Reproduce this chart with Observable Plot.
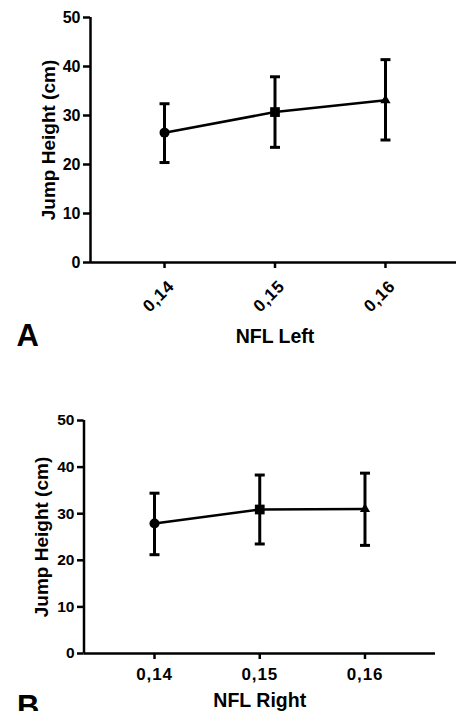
<!DOCTYPE html>
<html><head><meta charset="utf-8">
<script src="https://cdn.jsdelivr.net/npm/d3@7"></script>
<script src="https://cdn.jsdelivr.net/npm/@observablehq/plot@0.6"></script>
<style>
html,body{margin:0;padding:0;background:#fff;overflow:hidden;width:456px;height:711px}
svg{display:block}
</style></head><body><div id="a"></div><div id="b"></div>
<script>
// ---- data ----
const nfl = [0.14, 0.15, 0.16];
const xTickLabels = ["0,14", "0,15", "0,16"];
const markers = ["circle", "square", "triangle"];
const yTicks = [0, 10, 20, 30, 40, 50];
const leftMean = [26.5, 30.7, 33.1];
const leftLow = [20.4, 23.5, 25.0];
const leftHigh = [32.4, 37.9, 41.4];
const rightMean = [27.9, 30.9, 31.0];
const rightLow = [21.2, 23.5, 23.2];
const rightHigh = [34.4, 38.3, 38.7];
const panelLetters = ["A", "B"];
const xTitles = ["NFL Left", "NFL Right"];
const yTitle = "Jump Height (cm)";
const xDomain = [0.1333, 0.1667];
const yDomain = [0, 50];

const FONT = "'Liberation Sans', Arial, Helvetica, sans-serif";
const capSymbol = {
  draw(context, size) {
    const w = Math.sqrt(size / Math.PI);
    context.moveTo(-w, 0);
    context.lineTo(w, 0);
  }
};

function panel(o) {
  const rows = nfl.map((x, i) => ({x, mean: o.mean[i], low: o.low[i], high: o.high[i], symbol: markers[i]}));
  const svg = Plot.plot({
    width: 456,
    height: o.height,
    marginTop: o.mt, marginRight: o.mr, marginBottom: o.mb, marginLeft: o.ml,
    style: {fontFamily: FONT, fontWeight: "bold", color: "black", background: "white", overflow: "hidden"},
    x: {domain: xDomain, axis: null},
    y: {domain: yDomain, axis: null},
    marks: [
      Plot.axisY({ticks: yTicks, tickSize: o.yTickSize, tickPadding: 3, strokeWidth: 2.5, fontSize: o.yFont, label: null}),
      // tick marks
      Plot.axisX({ticks: nfl, tickFormat: () => "", tickSize: 6, strokeWidth: 2.5, label: null}),
      // tick labels
      Plot.axisX({ticks: nfl, tickFormat: d => xTickLabels[nfl.indexOf(d)], tickSize: 0, tickRotate: o.rotate,
        tickPadding: o.xPad, dx: o.xdx, dy: o.xdy, fontSize: 17, label: null}),
      Plot.ruleY([0], {stroke: "black", strokeWidth: 2.5}),
      Plot.ruleX([xDomain[0]], {stroke: "black", strokeWidth: 2.5}),
      Plot.ruleX(rows, {x: "x", y1: "low", y2: "high", stroke: "black", strokeWidth: 3}),
      Plot.dot(rows, {x: "x", y: "low", symbol: capSymbol, r: 5, stroke: "black", strokeWidth: 3, fill: "none"}),
      Plot.dot(rows, {x: "x", y: "high", symbol: capSymbol, r: 5, stroke: "black", strokeWidth: 3, fill: "none"}),
      Plot.line(rows, {x: "x", y: "mean", stroke: "black", strokeWidth: 2.5}),
      Plot.dot(rows, {filter: d => d.symbol === "circle", x: "x", y: "mean", symbol: "circle", r: 5, fill: "black", stroke: "none"}),
      Plot.dot(rows, {filter: d => d.symbol === "square", x: "x", y: "mean", symbol: "square", r: 5.5, fill: "black", stroke: "none"}),
      Plot.dot(rows, {filter: d => d.symbol === "triangle", x: "x", y: "mean", symbol: "triangle", r: 3.8, fill: "black", stroke: "none"}),
      Plot.text([yTitle], {text: d => d, frameAnchor: "left", rotate: -90, dx: o.ytdx, fontSize: 19,
        textAnchor: "middle", lineAnchor: "middle", fill: "black", ariaLabel: "ytitle"}),
      Plot.text([o.xTitle], {text: d => d, frameAnchor: "bottom", dy: o.xtdy, fontSize: 19.5,
        textAnchor: "middle", lineAnchor: "bottom", fill: "black"}),
      Plot.text([o.letter], {text: d => d, frameAnchor: "bottom-left", dx: o.ldx, dy: o.ldy, fontSize: 31,
        textAnchor: "start", lineAnchor: "bottom", fill: "black"})
    ]
  });
  const yt = svg.querySelector('g[aria-label="ytitle"]');
  if (yt) yt.style.letterSpacing = "0.5px";
  svg.querySelectorAll('g[aria-label="x-axis tick label"]').forEach(g => g.style.letterSpacing = "0.8px");
  return svg;
}

document.getElementById("a").append(panel({
  mean: leftMean, low: leftLow, high: leftHigh, letter: panelLetters[0], xTitle: xTitles[0],
  height: 355, mt: 17, mr: -3, mb: 93, ml: 90, yTickSize: 7, yFont: 16,
  rotate: -45, xPad: 9, xdx: 7, xdy: 12, ytdx: -42, xtdy: 80, ldx: -74, ldy: 83
}));
document.getElementById("b").append(panel({
  mean: rightMean, low: rightLow, high: rightHigh, letter: panelLetters[1], xTitle: xTitles[1],
  height: 356, mt: 65, mr: 21, mb: 58, ml: 83.5, yTickSize: 6.5, yFont: 15.5,
  rotate: 0, xPad: 14, xdx: 0, xdy: 0, ytdx: -42.5, xtdy: 53, ldx: -67, ldy: 63
}));
</script></body></html>
